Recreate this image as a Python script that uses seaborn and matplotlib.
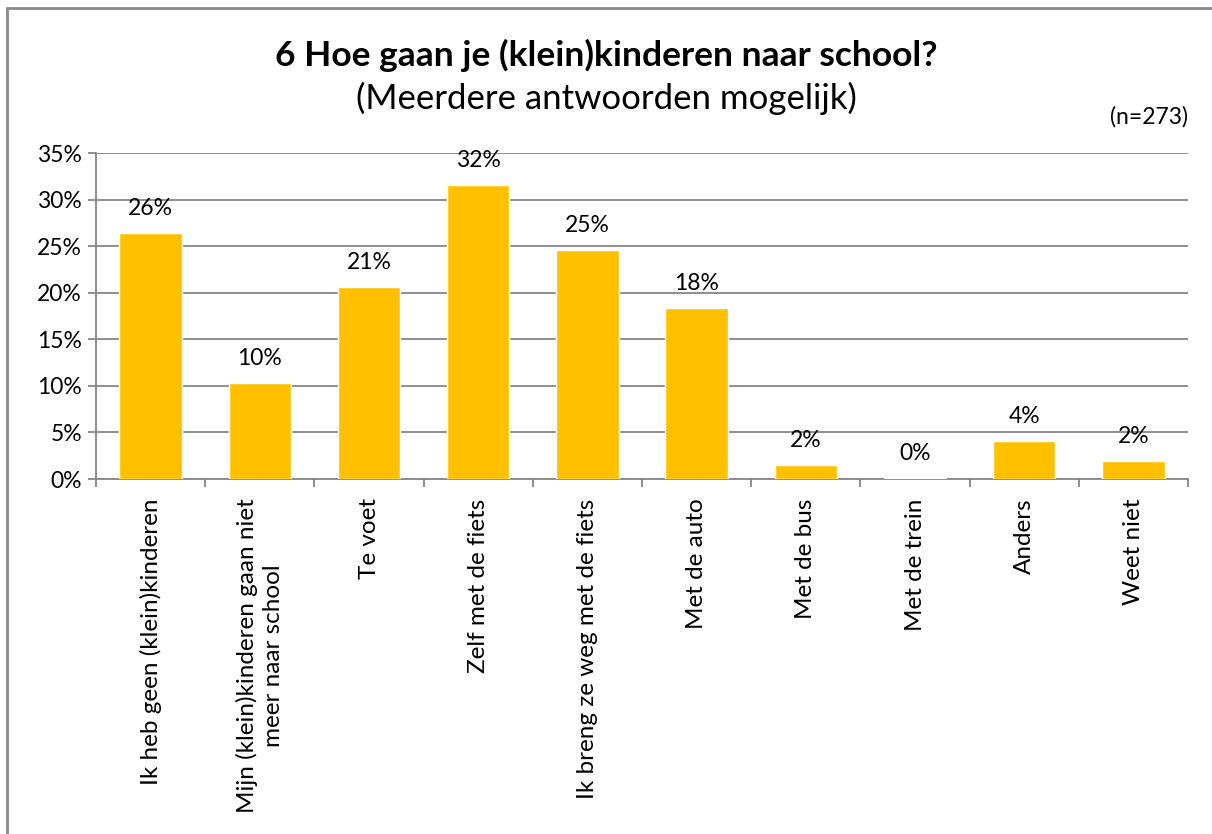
import numpy as np
import pandas as pd
import matplotlib
matplotlib.use('Agg')
import matplotlib.pyplot as plt
from matplotlib.lines import Line2D
from matplotlib.ticker import PercentFormatter, FixedLocator
import seaborn as sns

categories = [
    "Ik heb geen (klein)kinderen",
    "Mijn (klein)kinderen gaan niet\nmeer naar school",
    "Te voet",
    "Zelf met de fiets",
    "Ik breng ze weg met de fiets",
    "Met de auto",
    "Met de bus",
    "Met de trein",
    "Anders",
    "Weet niet",
]
percentages = [26.4, 10.3, 20.6, 31.6, 24.6, 18.4, 1.5, 0.15, 4.05, 1.95]
yticks = [0, 5, 10, 15, 20, 25, 30, 35]

df = pd.DataFrame({'category': categories, 'pct': percentages})

sns.set_theme(style='white')
plt.rcParams['font.family'] = ['Lato', 'DejaVu Sans']
plt.rcParams['text.color'] = 'black'
plt.rcParams['xtick.labelcolor'] = 'black'
plt.rcParams['ytick.labelcolor'] = 'black'

grey = '#868686'
fig = plt.figure(figsize=(12.12, 8.34), dpi=100)
ax = fig.add_axes([96 / 1212, 1 - 479 / 834, (1188 - 96) / 1212, (479 - 153) / 834])

sns.barplot(data=df, x='category', y='pct', color='#FFC000', width=0.57,
            saturation=1, ax=ax, zorder=3)

ax.set_ylim(0, 35)
ax.set_xlim(-0.5, len(categories) - 0.5)
ax.yaxis.set_major_locator(FixedLocator(yticks))
ax.yaxis.set_major_formatter(PercentFormatter(decimals=0))
ax.grid(axis='y', color=grey, linewidth=1.3, zorder=0)
ax.set_axisbelow(True)

for side in ['top', 'right']:
    ax.spines[side].set_visible(False)
for side in ['left', 'bottom']:
    ax.spines[side].set_color(grey)
    ax.spines[side].set_linewidth(1.3)

ax.tick_params(axis='y', direction='out', length=6, width=1.3, color=grey,
               labelsize=16.5, pad=4, left=True, labelcolor='black')
ax.tick_params(axis='x', which='major', length=0, labelsize=17.5, pad=14,
               rotation=90, labelcolor='black')
ax.set_xticks(np.arange(-0.5, len(categories)), minor=True)
ax.tick_params(axis='x', which='minor', direction='out', length=6, width=1.3,
               color=grey, bottom=True)
for lbl in ax.get_xticklabels():
    lbl.set_multialignment('center')
    lbl.set_linespacing(1.3)

ax.set_xlabel('')
ax.set_ylabel('')

ax.bar_label(ax.containers[0], labels=[f"{v:.0f}%" for v in percentages],
             padding=10, fontsize=16.5, color='black')

fig.text(0.5, 1 - 55 / 834, "6 Hoe gaan je (klein)kinderen naar school?",
         ha='center', va='center', fontsize=25.5, fontweight='bold')
fig.text(0.5, 1 - 98 / 834, "(Meerdere antwoorden mogelijk)",
         ha='center', va='center', fontsize=25)
fig.text(1188 / 1212, 1 - 117 / 834, "(n=273)", ha='right', va='center',
         fontsize=16.5)

# frame lines of the chart area (only top and left visible)
fig.add_artist(Line2D([7 / 1212, 1], [1 - 8 / 834, 1 - 8 / 834],
                      transform=fig.transFigure, color='#8a8a8a', lw=2))
fig.add_artist(Line2D([7 / 1212, 7 / 1212], [0, 1 - 8 / 834],
                      transform=fig.transFigure, color='#8a8a8a', lw=2))

fig.savefig('out.png', dpi=100)
